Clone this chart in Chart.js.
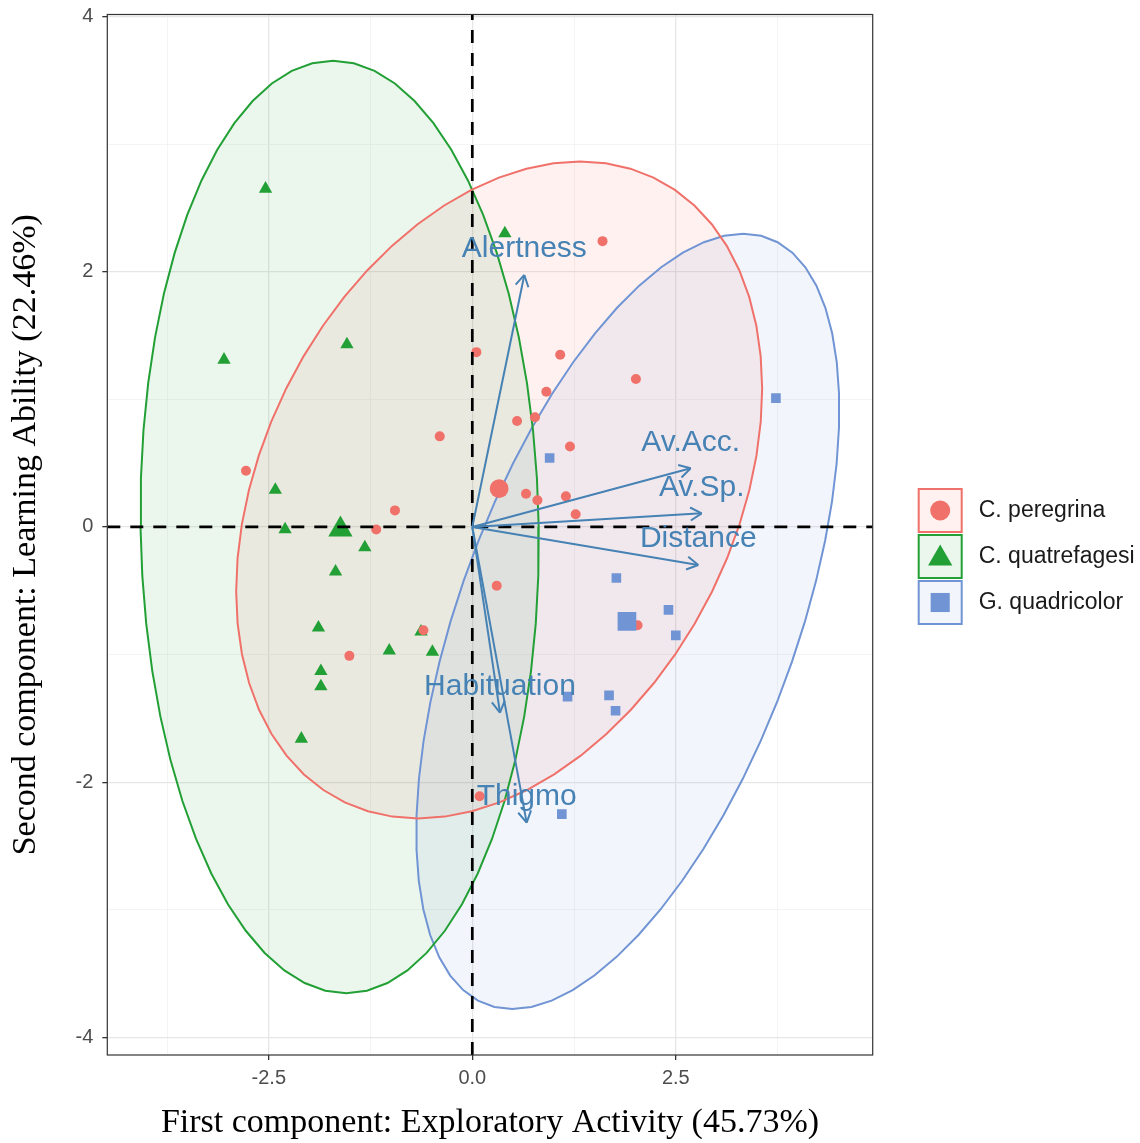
<!DOCTYPE html>
<html>
<head>
<meta charset="utf-8">
<script src="https://cdn.jsdelivr.net/npm/chart.js@4.4.0/dist/chart.umd.min.js"></script>
<style>
  html, body { margin: 0; padding: 0; background: #fff; }
  #wrap { width: 1140px; height: 1143px; }
</style>
</head>
<body>
<div id="wrap"><canvas id="pcaChart" width="1140" height="1143"></canvas></div>
<script>
// PCA biplot of three species: individuals, group ellipses, variable loadings

// species
const speciesNames = ['C. peregrina', 'C. quatrefagesi', 'G. quadricolor'];

// individuals (Dim1, Dim2)
const peregrinaX = [1.60, 0.05, 1.08, 2.01, 0.91, 0.77, 0.55, -0.40, 1.20, -2.78, 0.66, 0.80, 1.15, 1.27, -0.95, -1.18, 0.30, -0.60, -1.51, 2.03, 0.09];
const peregrinaY = [2.24, 1.37, 1.35, 1.16, 1.06, 0.86, 0.83, 0.71, 0.63, 0.44, 0.26, 0.21, 0.24, 0.10, 0.13, -0.02, -0.46, -0.81, -1.01, -0.77, -2.11];
const quatrefagesiX = [-2.54, 0.40, -3.05, -1.54, -2.42, -2.30, -1.32, -1.68, -1.89, -0.63, -1.02, -0.49, -1.86, -1.86, -2.10];
const quatrefagesiY = [2.65, 2.30, 1.31, 1.43, 0.29, -0.02, -0.16, -0.35, -0.79, -0.82, -0.97, -0.98, -1.13, -1.25, -1.66];
const quadricolorX = [0.95, 3.73, 1.77, 2.41, 2.50, 1.17, 1.68, 1.76, 1.10];
const quadricolorY = [0.54, 1.01, -0.40, -0.65, -0.85, -1.33, -1.32, -1.44, -2.25];

// group means
const meanX = [0.33, -1.62, 1.90];
const meanY = [0.30, -0.02, -0.74];

// ellipses: centre, offset to the top point, horizontal half width
const ellipseCx = [0.33, -1.63, 1.91];
const ellipseCy = [0.29, 0.00, -0.74];
const ellipseTopDx = [0.995, -0.081, 1.419];
const ellipseTopDy = [2.574, 3.654, 3.038];
const ellipseHalfW = [3.074, 2.446, 2.177];

// variables (arrows)
const varNames = ['Alertness', 'Av.Acc.', 'Av.Sp.', 'Distance', 'Habituation', 'Thigmo'];
const varX = [0.639, 2.683, 2.818, 2.776, 0.340, 0.668];
const varY = [1.975, 0.460, 0.107, -0.298, -1.455, -2.317];

// axes
const xMajorTicks = [-2.5, 0, 2.5];
const xMinorTicks = [-3.75, -1.25, 1.25, 3.75];
const yMajorTicks = [-4, -2, 0, 2, 4];
const yMinorTicks = [-3, -1, 1, 3];
const xMin = -4.484, xMax = 4.919;
const yMin = -4.138, yMax = 4.016;

// styles
const speciesColors = ['#F0716A', '#22A035', '#7094D4'];
const speciesFills = ['rgba(248,118,109,0.10)', 'rgba(34,160,53,0.09)', 'rgba(112,148,212,0.09)'];
const speciesShapes = ['circle', 'triangle', 'rect'];
const pointSizes = [5, 7.7, 6.8];
const meanSizes = [9.4, 14, 13.2];
const arrowColor = '#4682B4';

function toPoints(xs, ys) {
    return xs.map((x, i) => ({ x: x, y: ys[i] }));
}

function ellipsePoints(i) {
    const pts = [];
    const steps = 60;
    for (let k = 0; k <= steps; k++) {
        const t = (k / steps) * Math.PI * 2;
        pts.push({
            x: ellipseCx[i] + ellipseTopDx[i] * Math.cos(t) + ellipseHalfW[i] * Math.sin(t),
            y: ellipseCy[i] + ellipseTopDy[i] * Math.cos(t)
        });
    }
    return pts;
}

function buildDatasets() {
    const sets = [];
    const groups = [
        toPoints(peregrinaX, peregrinaY),
        toPoints(quatrefagesiX, quatrefagesiY),
        toPoints(quadricolorX, quadricolorY)
    ];

    // arrows on top
    varNames.forEach((name, i) => {
        sets.push({
            label: name,
            isArrow: true,
            data: [{ x: 0, y: 0 }, { x: varX[i], y: varY[i] }],
            showLine: true,
            borderColor: arrowColor,
            borderWidth: 2,
            pointRadius: 0
        });
    });

    // zero lines
    sets.push({
        data: [{ x: xMin, y: 0 }, { x: xMax, y: 0 }],
        showLine: true, borderColor: '#000', borderWidth: 2.7, borderDash: [13, 10], pointRadius: 0
    });
    sets.push({
        data: [{ x: 0, y: yMin }, { x: 0, y: yMax }],
        showLine: true, borderColor: '#000', borderWidth: 2.7, borderDash: [13, 10], pointRadius: 0
    });

    // group means
    speciesNames.forEach((name, i) => {
        sets.push({
            data: [{ x: meanX[i], y: meanY[i] }],
            pointStyle: speciesShapes[i],
            pointRadius: meanSizes[i],
            backgroundColor: speciesColors[i],
            borderWidth: 0
        });
    });

    // individuals
    speciesNames.forEach((name, i) => {
        sets.push({
            label: name,
            data: groups[i],
            pointStyle: speciesShapes[i],
            pointRadius: pointSizes[i],
            backgroundColor: speciesColors[i],
            borderWidth: 0
        });
    });

    // ellipse outlines (fill done by plugin)
    speciesNames.forEach((name, i) => {
        sets.push({
            isEllipse: true,
            fillColor: speciesFills[i],
            data: ellipsePoints(i),
            showLine: true,
            borderColor: speciesColors[i],
            borderWidth: 2,
            pointRadius: 0
        });
    });
    return sets;
}

// fill ellipses under everything
const ellipseFill = {
    id: 'ellipseFill',
    beforeDatasetsDraw(chart) {
        const ctx = chart.ctx;
        chart.data.datasets.forEach((ds, i) => {
            if (!ds.isEllipse) return;
            const pts = chart.getDatasetMeta(i).data;
            ctx.save();
            ctx.beginPath();
            pts.forEach((p, k) => k ? ctx.lineTo(p.x, p.y) : ctx.moveTo(p.x, p.y));
            ctx.closePath();
            ctx.fillStyle = ds.fillColor;
            ctx.fill();
            ctx.restore();
        });
    }
};

// arrow heads, variable labels, panel border
const arrowsAndBorder = {
    id: 'arrowsAndBorder',
    afterDatasetsDraw(chart) {
        const ctx = chart.ctx;
        ctx.save();
        chart.data.datasets.forEach((ds, i) => {
            if (!ds.isArrow) return;
            const pts = chart.getDatasetMeta(i).data;
            const o = pts[0], tip = pts[1];
            const ang = Math.atan2(tip.y - o.y, tip.x - o.x);
            const len = 13;
            ctx.strokeStyle = arrowColor;
            ctx.lineWidth = 2;
            ctx.beginPath();
            [-1, 1].forEach(s => {
                ctx.moveTo(tip.x, tip.y);
                ctx.lineTo(tip.x - len * Math.cos(ang + s * Math.PI / 6),
                           tip.y - len * Math.sin(ang + s * Math.PI / 6));
            });
            ctx.stroke();
            ctx.fillStyle = arrowColor;
            ctx.font = '30px "Liberation Sans", Arial, sans-serif';
            ctx.textAlign = 'center';
            ctx.textBaseline = 'middle';
            ctx.fillText(ds.label, tip.x, tip.y - 26);
        });
        const a = chart.chartArea;
        ctx.strokeStyle = '#333';
        ctx.lineWidth = 1.2;
        ctx.strokeRect(a.left, a.top, a.right - a.left, a.bottom - a.top);
        ctx.restore();
    }
};

// legend with boxed keys
const speciesLegend = {
    id: 'speciesLegend',
    afterDraw(chart) {
        const ctx = chart.ctx;
        const left = chart.chartArea.right + 46;
        const size = 43;
        const legendRadius = [10, 14, 13.5];
        ctx.save();
        speciesNames.forEach((name, i) => {
            const top = 489 + i * 46;
            ctx.fillStyle = speciesFills[i];
            ctx.fillRect(left, top, size, size);
            ctx.strokeStyle = speciesColors[i];
            ctx.lineWidth = 2;
            ctx.strokeRect(left, top, size, size);
            ctx.fillStyle = speciesColors[i];
            Chart.helpers.drawPoint(ctx, {
                pointStyle: speciesShapes[i], radius: legendRadius[i], rotation: 0, borderWidth: 0
            }, left + size / 2, top + size / 2 + (i === 1 ? 2 : 0));
            ctx.fillStyle = '#1a1a1a';
            ctx.font = '23px "Liberation Sans", Arial, sans-serif';
            ctx.textAlign = 'left';
            ctx.textBaseline = 'middle';
            ctx.fillText(name, left + 60, top + size / 2);
        });
        ctx.restore();
    }
};

function gridColor(ctx, majors) {
    return majors.includes(ctx.tick.value) ? '#E6E6E6' : '#F1F1F1';
}

function createChart() {
    const canvas = document.getElementById('pcaChart');
    new Chart(canvas.getContext('2d'), {
        type: 'scatter',
        data: { datasets: buildDatasets() },
        plugins: [ellipseFill, arrowsAndBorder, speciesLegend],
        options: {
            responsive: false,
            animation: false,
            devicePixelRatio: 1,
            events: [],
            layout: { padding: { left: 0, top: 14.5, right: 267.3, bottom: 0 } },
            plugins: {
                legend: { display: false },
                tooltip: { enabled: false }
            },
            scales: {
                x: {
                    type: 'linear',
                    min: xMin,
                    max: xMax,
                    afterBuildTicks: scale => {
                        scale.ticks = xMinorTicks.concat(xMajorTicks).sort((a, b) => a - b).map(v => ({ value: v }));
                    },
                    afterFit: scale => {
                        scale.height = 88;
                        scale.paddingLeft = 0;
                        scale.paddingRight = 0;
                    },
                    border: { display: false },
                    grid: {
                        color: ctx => gridColor(ctx, xMajorTicks),
                        lineWidth: ctx => xMajorTicks.includes(ctx.tick.value) ? 1.3 : 0.8,
                        tickLength: 5,
                        tickColor: ctx => xMajorTicks.includes(ctx.tick.value) ? '#333' : 'rgba(0,0,0,0)',
                        tickWidth: 1.3
                    },
                    ticks: {
                        autoSkip: false,
                        maxRotation: 0,
                        padding: 6,
                        color: '#4D4D4D',
                        font: { family: '"Liberation Sans", Arial, sans-serif', size: 20 },
                        callback: v => xMajorTicks.includes(v) ? v.toFixed(1) : ''
                    },
                    title: {
                        display: true,
                        text: 'First component: Exploratory Activity (45.73%)',
                        color: '#000',
                        font: { family: '"Liberation Serif", "Times New Roman", serif', size: 34 },
                        padding: { top: 0, bottom: 0 }
                    }
                },
                y: {
                    type: 'linear',
                    min: yMin,
                    max: yMax,
                    afterBuildTicks: scale => {
                        scale.ticks = yMinorTicks.concat(yMajorTicks).sort((a, b) => a - b).map(v => ({ value: v }));
                    },
                    afterFit: scale => {
                        scale.width = 107.3;
                        scale.paddingTop = 0;
                        scale.paddingBottom = 0;
                    },
                    border: { display: false },
                    grid: {
                        color: ctx => gridColor(ctx, yMajorTicks),
                        lineWidth: ctx => yMajorTicks.includes(ctx.tick.value) ? 1.3 : 0.8,
                        tickLength: 5,
                        tickColor: ctx => yMajorTicks.includes(ctx.tick.value) ? '#333' : 'rgba(0,0,0,0)',
                        tickWidth: 1.3
                    },
                    ticks: {
                        autoSkip: false,
                        padding: 9,
                        color: '#4D4D4D',
                        font: { family: '"Liberation Sans", Arial, sans-serif', size: 20 },
                        callback: v => yMajorTicks.includes(v) ? String(v) : ''
                    },
                    title: {
                        display: true,
                        text: 'Second component: Learning Ability (22.46%)',
                        color: '#000',
                        font: { family: '"Liberation Serif", "Times New Roman", serif', size: 34 },
                        padding: { top: 6, bottom: 0 }
                    }
                }
            }
        }
    });
}

document.addEventListener('DOMContentLoaded', createChart);
</script>
</body>
</html>
